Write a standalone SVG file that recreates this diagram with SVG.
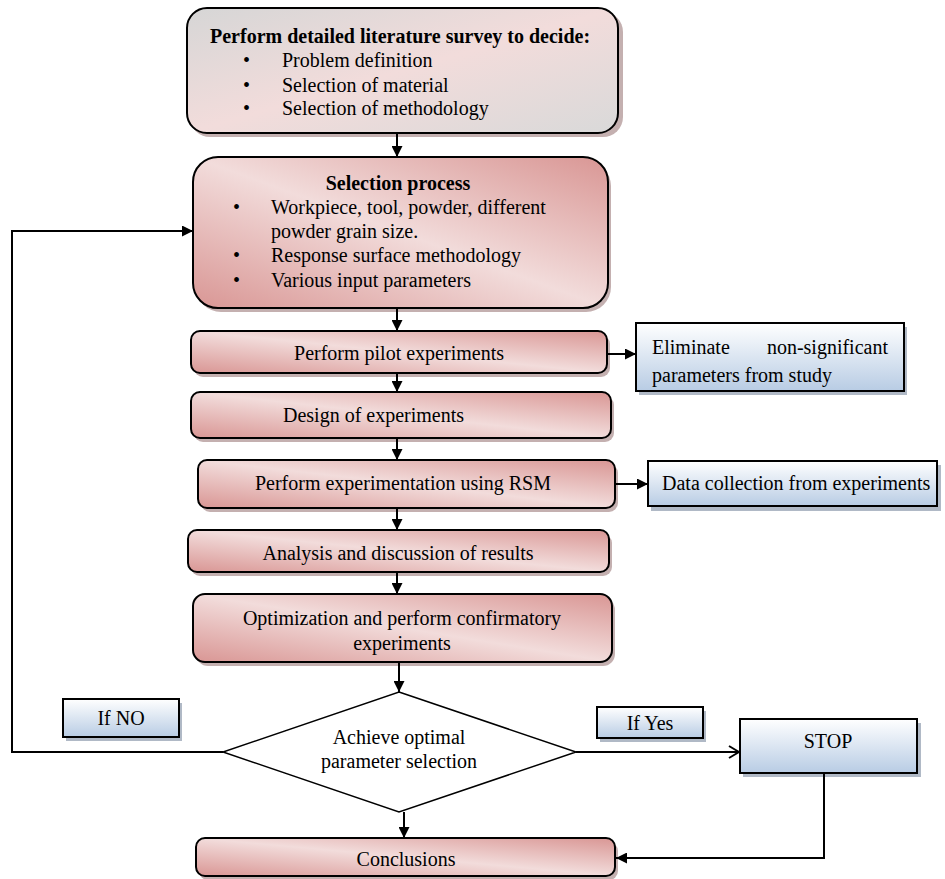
<svg xmlns="http://www.w3.org/2000/svg" width="945" height="879" viewBox="0 0 945 879">
<defs>
<linearGradient id="pink" x1="0" y1="1" x2="1" y2="0">
<stop offset="0" stop-color="#d99694"/>
<stop offset="0.5" stop-color="#f2dcdb"/>
<stop offset="1" stop-color="#d99694"/>
</linearGradient>
<linearGradient id="gray" x1="0" y1="0" x2="1" y2="1">
<stop offset="0" stop-color="#d6d6d6"/>
<stop offset="0.5" stop-color="#f2dcdb"/>
<stop offset="1" stop-color="#d9d9d9"/>
</linearGradient>
<linearGradient id="blue" x1="0" y1="0" x2="0" y2="1">
<stop offset="0" stop-color="#ffffff"/>
<stop offset="1" stop-color="#b8cce4"/>
</linearGradient>
<marker id="arr" viewBox="0 0 10 10" refX="10" refY="5" markerWidth="11" markerHeight="11" markerUnits="userSpaceOnUse" orient="auto">
<path d="M0,0 L10,5 L0,10 z" fill="#000"/>
</marker>
<marker id="open" viewBox="0 0 12 14" refX="11" refY="7" markerWidth="12" markerHeight="14" markerUnits="userSpaceOnUse" orient="auto">
<path d="M1,1 L11,7 L1,13" fill="none" stroke="#000" stroke-width="2"/>
</marker>
</defs>
<style>
text{font-family:"Liberation Serif","Times New Roman",serif;font-size:20px;fill:#000}
.b{font-weight:bold}
.c{text-anchor:middle}
.pk{fill:url(#pink);stroke:#000;stroke-width:2}
.gr{fill:url(#gray);stroke:#000;stroke-width:2}
.bl{fill:url(#blue);stroke:#000;stroke-width:2}
.shp{fill:#a58585;opacity:0.65}
.shb{fill:#8594a8;opacity:0.65}
.ln{fill:none;stroke:#000;stroke-width:2}
.dm{fill:#fff;stroke:#000;stroke-width:1.5}
</style>

<g id="survey">
<rect class="shp" x="190" y="12" width="433" height="125" rx="20"/>
<rect class="gr" x="187" y="8" width="431" height="125" rx="20"/>
<text class="b" x="210" y="43">Perform detailed literature survey to decide:</text>
<text x="243" y="67">•</text><text x="282" y="67">Problem definition</text>
<text x="243" y="92">•</text><text x="282" y="92">Selection of material</text>
<text x="243" y="115">•</text><text x="282" y="115">Selection of methodology</text>
</g>

<g id="selection">
<rect class="shp" x="196" y="161" width="415" height="151" rx="25"/>
<rect class="pk" x="193" y="157" width="415" height="151" rx="25"/>
<text class="b c" x="398" y="190">Selection process</text>
<text x="233" y="214">•</text><text x="271" y="214">Workpiece, tool, powder, different</text>
<text x="271" y="238">powder grain size.</text>
<text x="233" y="262">•</text><text x="271" y="262">Response surface methodology</text>
<text x="233" y="287">•</text><text x="271" y="287">Various input parameters</text>
</g>

<g id="pilot">
<rect class="shp" x="194" y="335" width="416" height="42" rx="9"/>
<rect class="pk" x="191" y="331" width="416" height="42" rx="9"/>
<text class="c" x="399" y="360">Perform pilot experiments</text>
</g>

<g id="eliminate">
<rect class="shb" x="639" y="327" width="268" height="68"/>
<rect class="bl" x="636" y="323" width="268" height="68"/>
<text x="652" y="354">Eliminate</text>
<text x="888" y="354" style="text-anchor:end">non-significant</text>
<text x="652" y="382">parameters from study</text>
</g>

<g id="design">
<rect class="shp" x="194" y="396" width="420" height="46" rx="9"/>
<rect class="pk" x="191" y="392" width="420" height="46" rx="9"/>
<text x="283" y="422">Design of experiments</text>
</g>

<g id="rsm">
<rect class="shp" x="201" y="464" width="417" height="48" rx="9"/>
<rect class="pk" x="198" y="460" width="417" height="48" rx="9"/>
<text class="c" x="403" y="490">Perform experimentation using RSM</text>
</g>

<g id="datacollection">
<rect class="shb" x="651" y="465" width="290" height="46"/>
<rect class="bl" x="648" y="461" width="289" height="45"/>
<text x="662" y="490">Data collection from experiments</text>
</g>

<g id="analysis">
<rect class="shp" x="191" y="534" width="421" height="42" rx="9"/>
<rect class="pk" x="188" y="530" width="421" height="42" rx="9"/>
<text class="c" x="398" y="560">Analysis and discussion of results</text>
</g>

<g id="optimization">
<rect class="shp" x="196" y="598" width="419" height="68" rx="12"/>
<rect class="pk" x="193" y="594" width="419" height="68" rx="12"/>
<text class="c" x="402" y="625">Optimization and perform confirmatory</text>
<text class="c" x="402" y="650">experiments</text>
</g>

<g id="decision">
<polygon class="dm" points="399,692 576,752 399,812 223,752"/>
<text class="c" x="399" y="744">Achieve optimal</text>
<text class="c" x="399" y="768">parameter selection</text>
</g>

<g id="ifno">
<rect class="shb" x="66" y="703" width="116" height="38"/>
<rect class="bl" x="63" y="699" width="116" height="38"/>
<text class="c" x="121" y="725">If NO</text>
</g>

<g id="ifyes">
<rect class="shb" x="600" y="711" width="106" height="31"/>
<rect class="bl" x="597" y="707" width="106" height="31"/>
<text class="c" x="650" y="730">If Yes</text>
</g>

<g id="stop">
<rect class="shb" x="743" y="723" width="178" height="54"/>
<rect class="bl" x="740" y="719" width="177" height="54"/>
<text class="c" x="828" y="748">STOP</text>
</g>

<g id="conclusions">
<rect class="shp" x="199" y="842" width="419" height="38" rx="9"/>
<rect class="pk" x="196" y="838" width="419" height="38" rx="9"/>
<text class="c" x="406" y="866">Conclusions</text>
</g>

<g id="connectors">
<line class="ln" x1="397" y1="133" x2="397" y2="157" marker-end="url(#arr)"/>
<line class="ln" x1="397" y1="308" x2="397" y2="331" marker-end="url(#arr)"/>
<line class="ln" x1="397" y1="373" x2="397" y2="392" marker-end="url(#arr)"/>
<line class="ln" x1="397" y1="438" x2="397" y2="460" marker-end="url(#arr)"/>
<line class="ln" x1="397" y1="508" x2="397" y2="530" marker-end="url(#arr)"/>
<line class="ln" x1="397" y1="572" x2="397" y2="594" marker-end="url(#arr)"/>
<line class="ln" x1="399" y1="662" x2="399" y2="692" marker-end="url(#arr)"/>
<line class="ln" x1="404" y1="812" x2="404" y2="838" marker-end="url(#arr)"/>
<line class="ln" x1="607" y1="354" x2="636" y2="354" marker-end="url(#arr)"/>
<line class="ln" x1="615" y1="484" x2="648" y2="484" marker-end="url(#arr)"/>
<polyline class="ln" points="223,752 12,752 12,231 193,231" marker-end="url(#arr)"/>
<line class="ln" x1="576" y1="752" x2="739" y2="752" marker-end="url(#open)"/>
<polyline class="ln" points="824,773 824,858 616,858" marker-end="url(#arr)"/>
</g>
</svg>
